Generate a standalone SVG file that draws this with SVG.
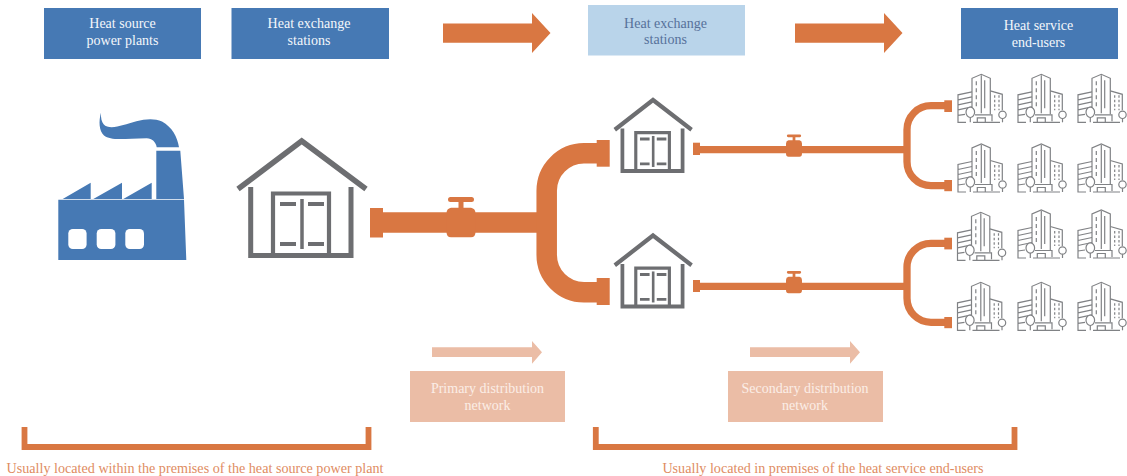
<svg xmlns="http://www.w3.org/2000/svg" width="1127" height="476" viewBox="0 0 1127 476">
<style>
text{font-family:"Liberation Serif","Times New Roman",serif;text-anchor:middle;font-size:14px}
.w{fill:#f4f7fb}.d{fill:#56719a}.p{fill:#fbeee7}
.o{fill:#e08c62;font-size:14.15px}
.blue{fill:#4679b4}.light{fill:#b9d4ea}.pale{fill:#ebbda6}.org{fill:#d97742}
.pipe{fill:none;stroke:#d97742}
.g{fill:none;stroke:#6d6e71}
.b{fill:none;stroke:#808285;stroke-width:1.2}
.t{fill:#fff;stroke:#808285;stroke-width:1.2}
</style>
<defs>
<g id="house">
<path d="M238,189L301.700,141L366,189" class="g" style="stroke-width:calc(5.500px*var(--k,1))"/>
<path d="M250.700,187V255.500H351V187" class="g" style="stroke-width:calc(5px*var(--k,1))"/>
<path d="M273,255V193.500H329V255" class="g" style="stroke-width:calc(4.200px*var(--k,1))"/>
<path d="M302,199V249" class="g" style="stroke-width:calc(3.500px*var(--k,1))"/>
<path d="M280,204H296M308,204H324M280,244H296M308,244H324" class="g" style="stroke-width:calc(3.800px*var(--k,1))"/>
</g>
<g id="bld">
<path d="M14,42V4L23.300,0L32.300,4V40" class="b"/>
<path d="M26.700,6V34M23.300,1V39" class="b"/>
<path d="M18.300,7V33" class="b" stroke-dasharray="4 3"/>
<path d="M14,17.500L0,20.500V48H8M0,25.500L14,22.500M0,30.500L14,27.500M0,35.500L14,32.500M0,41L7,40" class="b"/>
<path d="M36.700,21V36M41,21V36" class="b" stroke-dasharray="2.500 2"/>
<path d="M32.300,16.500L44.300,20V36" class="b"/>
<ellipse cx="12.300" cy="38" rx="4.300" ry="5.200" class="t"/><path d="M12.300,43V48" class="b"/>
<circle cx="44.500" cy="40.500" r="3.700" class="t"/><path d="M44.500,44.200V48" class="b"/>
<path d="M15,48H42M17,40.500H34V47M19.300,48V43.500H27.300V48" class="b"/>
</g>
<path id="arr" d="M0,23.500H89V13L107.500,33L89,53V42.800H0Z" class="org"/>
<path id="parr" d="M0,347.300H100V341L110,352.300L100,363.700V357H0Z" class="pale"/>
<path id="valve" d="M-14.500,-9Q-14.500,-14 -10,-14.800H-2.500V-20.500H-10.500A2.500,2.500 0 0 1 -10.500,-25.500H10.500A2.500,2.500 0 0 1 10.500,-20.500H2.500V-14.800H10Q14.500,-14 14.500,-9V9.500Q14.500,14.800 10,14.800H-10Q-14.500,14.800 -14.500,9.500Z" class="org"/>
</defs>

<g id="connectors">
<use href="#arr" x="443"/>
<use href="#arr" x="795"/>
<g id="primary-pipe">
<rect x="370" y="208" width="13" height="29.500" class="org"/>
<path d="M380,222.500H546.700" class="pipe" stroke-width="20.500"/>
<path d="M605,153.300H584A37.500,37.500 0 0 0 546.700,190.800V254.800A37.500,37.500 0 0 0 584,292.300H605" class="pipe" stroke-width="20.500"/>
<rect x="596.700" y="140" width="13" height="26.700" class="org"/>
<rect x="596.700" y="278" width="13" height="27" class="org"/>
<use href="#valve" x="461" y="222.500"/>
</g>
<g id="secondary-pipe-1">
<rect x="693" y="142.700" width="7" height="12.300" class="org"/>
<path d="M698,149.600H907" class="pipe" stroke-width="7.300"/>
<path d="M948,105.700H931A24,24 0 0 0 907,129.700V161.700A24,24 0 0 0 931,185.700H948" class="pipe" stroke-width="7.300"/>
<rect x="944.300" y="100.300" width="7.700" height="11.700" class="org"/>
<rect x="944.300" y="180" width="7.700" height="11.200" class="org"/>
<use href="#valve" transform="translate(794,148.500) scale(.55)"/>
</g>
<g id="secondary-pipe-2">
<rect x="693" y="280" width="7" height="12" class="org"/>
<path d="M698,286.300H907" class="pipe" stroke-width="7.300"/>
<path d="M948,243.300H931A24,24 0 0 0 907,267.300V298.300A24,24 0 0 0 931,322.300H948" class="pipe" stroke-width="7.300"/>
<rect x="944.300" y="237.700" width="7.700" height="11.700" class="org"/>
<rect x="944.300" y="317" width="7.700" height="11.200" class="org"/>
<use href="#valve" transform="translate(794,285) scale(.55)"/>
</g>
<use href="#parr" x="432"/>
<use href="#parr" x="750"/>
</g>

<g id="label-heat-source">
<rect x="44" y="8" width="157" height="51" class="blue"/>
<text x="122.500" y="28.300" class="w">Heat source</text><text x="122.500" y="44.500" class="w">power plants</text>
</g>
<g id="label-exchange-1">
<rect x="231.500" y="8" width="157.500" height="51" class="blue"/>
<text x="309" y="28.300" class="w">Heat exchange</text><text x="309" y="45" class="w">stations</text>
</g>
<g id="label-exchange-2">
<rect x="588" y="5" width="157" height="50.500" class="light"/>
<text x="665.500" y="27.500" class="d">Heat exchange</text><text x="665.500" y="44" class="d">stations</text>
</g>
<g id="label-end-users">
<rect x="961" y="8" width="157" height="51" class="blue"/>
<text x="1038.500" y="30" class="w">Heat service</text><text x="1038.500" y="47" class="w">end-users</text>
</g>

<g id="factory">
<path class="blue" d="M58.300,199.800H184L186.300,260H58.300ZM62.700,199L90.700,182.700V199ZM93.300,199L122,182.700V199ZM123.300,199L151.700,182.700V199ZM156.300,150.700H180.300L184,199H156.300Z"/>
<path class="blue" d="M101,112.700C98.500,121 99,131 104,135.500C111,141 124,138.500 146.700,138.300C152,138.500 156,142 156.700,147.300H179C177.500,137 172,127 162,121.500C150,116 135,121.500 123.300,125C112,128.500 100,130 101,112.700Z"/>
<g fill="#fff"><rect x="68.300" y="229" width="18.300" height="20" rx="4.500"/><rect x="96.700" y="229" width="18.700" height="20" rx="4.500"/><rect x="125.300" y="229" width="18.700" height="20" rx="4.500"/></g>
</g>
<g id="station-main"><use href="#house"/></g>
<g id="station-upper" style="--k:1.25"><use href="#house" transform="translate(653,100) scale(.6,.62) translate(-301.700,-141)"/></g>
<g id="station-lower" style="--k:1.25"><use href="#house" transform="translate(653,235.500) scale(.6,.62) translate(-301.700,-141)"/></g>

<g id="end-users">
<use href="#bld" x="958" y="74.300"/><use href="#bld" x="1018" y="74.300"/><use href="#bld" x="1078" y="74.300"/>
<use href="#bld" x="958" y="144"/><use href="#bld" x="1018" y="144"/><use href="#bld" x="1078" y="144"/>
<use href="#bld" x="957.500" y="212.300"/><use href="#bld" x="1018" y="210"/><use href="#bld" x="1078" y="210"/>
<use href="#bld" x="957.500" y="282.300"/><use href="#bld" x="1018" y="282.300"/><use href="#bld" x="1078" y="282.300"/>
</g>

<g id="label-primary">
<rect x="410" y="371" width="155" height="51" class="pale"/>
<text x="487.500" y="393" class="p">Primary distribution</text><text x="487.500" y="410" class="p">network</text>
</g>
<g id="label-secondary">
<rect x="728" y="371" width="155" height="51" class="pale"/>
<text x="805" y="393" class="p">Secondary distribution</text><text x="805" y="410" class="p">network</text>
</g>
<g id="bracket-left">
<path d="M24.500,427V447H368.500V427" fill="none" stroke="#d97742" stroke-width="5.800"/>
<text x="195" y="472.500" class="o">Usually located within the premises of the heat source power plant</text>
</g>
<g id="bracket-right">
<path d="M595.800,427V447H1014.500V427" fill="none" stroke="#d97742" stroke-width="5.800"/>
<text x="823" y="472.500" class="o">Usually located in premises of the heat service end-users</text>
</g>
</svg>
